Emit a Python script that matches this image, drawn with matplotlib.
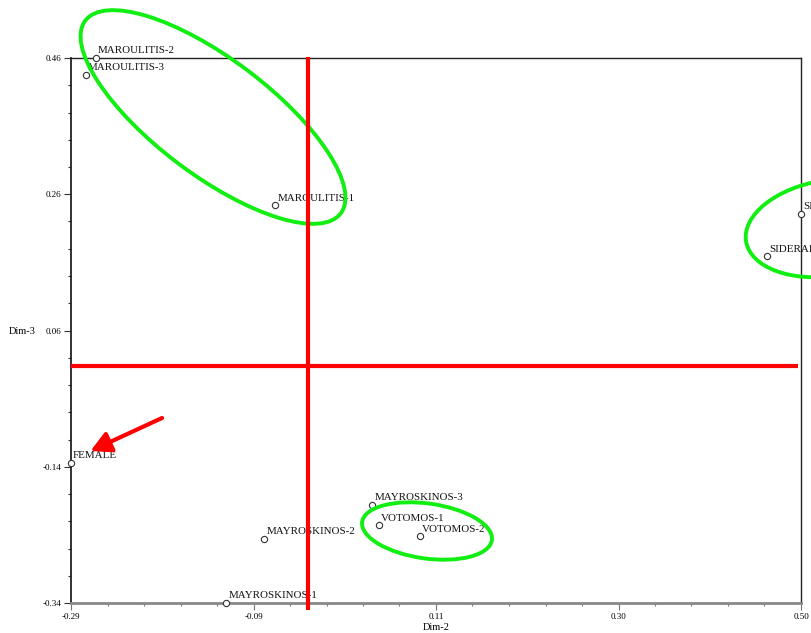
import numpy as np
import matplotlib
matplotlib.use("Agg")
import matplotlib.pyplot as plt
from matplotlib.patches import Ellipse
from matplotlib.transforms import Affine2D
from matplotlib.ticker import AutoMinorLocator

# coordenadas dos pontos (Dim-2, Dim-3)
labels = ['MAROULITIS-1', 'MAROULITIS-2', 'MAROULITIS-3', 'SIDERAKI-1', 'SIDERAKI-2',
          'FEMALE', 'MAYROSKINOS-1', 'MAYROSKINOS-2', 'MAYROSKINOS-3', 'VOTOMOS-1', 'VOTOMOS-2']
dim2 = [-0.069, -0.263, -0.274, 0.500, 0.463, -0.290, -0.122, -0.081, 0.036, 0.043, 0.088]
dim3 = [0.244, 0.460, 0.435, 0.231, 0.169, -0.134, -0.340, -0.246, -0.196, -0.226, -0.242]

xticks = [-0.29, -0.0925, 0.105, 0.3025, 0.50]
xticklabels = ['-0.29', '-0.09', '0.11', '0.30', '0.50']
yticks = [-0.34, -0.14, 0.06, 0.26, 0.46]
yticklabels = ['-0.34', '-0.14', '0.06', '0.26', '0.46']

# cruz vermelha
cross_x = -0.033
cross_y = 0.008

plt.rcParams['font.family'] = ['Liberation Serif', 'DejaVu Serif']

W, H = 811, 633
fig = plt.figure(figsize=(W / 100, H / 100), dpi=100)
ax = fig.add_axes([71 / W, 30 / H, 730 / W, 545 / H])

ax.set_xlim(-0.29, 0.50)
ax.set_ylim(-0.34, 0.46)

ax.plot(dim2, dim3, 'o', ms=4.5, mfc='white', mec='#333333', mew=0.8, clip_on=False, zorder=3)
for lab, x, y in zip(labels, dim2, dim3):
    ax.annotate(lab, (x, y), xytext=(1.5, 3.3), textcoords='offset points',
                fontsize=7.9, color='#111111', va='baseline', ha='left',
                annotation_clip=False, zorder=3)

# eixos / ticks
ax.set_xticks(xticks)
ax.set_xticklabels(xticklabels)
ax.set_yticks(yticks)
ax.set_yticklabels(yticklabels)
ax.xaxis.set_minor_locator(AutoMinorLocator(5))
ax.yaxis.set_minor_locator(AutoMinorLocator(5))
ax.tick_params(axis='both', which='major', length=5, width=0.8, labelsize=6.5, pad=2, color='#333333')
ax.tick_params(axis='both', which='minor', length=2.5, width=0.8, color='#333333')
ax.tick_params(axis='x', which='both', color='#777777')
for s in ['top', 'right', 'left']:
    ax.spines[s].set_color('#222222')
    ax.spines[s].set_linewidth(1.0)
ax.spines['left'].set_linewidth(1.3)
ax.spines['bottom'].set_color('#888888')
ax.spines['bottom'].set_linewidth(2.0)

fig.text(436 / W, 1 - 627 / H, 'Dim-2', fontsize=7.5, ha='center', va='center')
fig.text(36 / W, 1 - 331 / H, 'Dim-3', fontsize=7.5, ha='right', va='center')

# linhas vermelhas
ax.plot([cross_x, cross_x], [-0.350, 0.462], color='red', lw=3, clip_on=False, zorder=5, solid_capstyle='butt')
ax.plot([-0.29, 0.4966], [cross_y, cross_y], color='red', lw=3, clip_on=False, zorder=5, solid_capstyle='butt')

# elipses verdes e seta (coordenadas em pixels da imagem)
px = Affine2D().scale(1 / W, -1 / H).translate(0, 1) + fig.transFigure
for (cx, cy), w, h, ang in [((213, 117), 320, 116, 37),
                            ((427, 531), 131, 55, 8),
                            ((830, 228), 170, 96, -9)]:
    e = Ellipse((cx, cy), w, h, angle=ang, transform=px, fill=False,
                ec='#11ee11', lw=2.8, clip_on=False, zorder=4)
    ax.add_patch(e)

ax.annotate('', xy=(90.5, 451), xycoords=px, xytext=(162, 418), textcoords=px,
            arrowprops=dict(arrowstyle='-|>,head_length=0.6,head_width=0.32', color='red',
                            lw=3, mutation_scale=20, shrinkA=0, shrinkB=0),
            annotation_clip=False, zorder=6)

fig.savefig('out.png', dpi=100)
